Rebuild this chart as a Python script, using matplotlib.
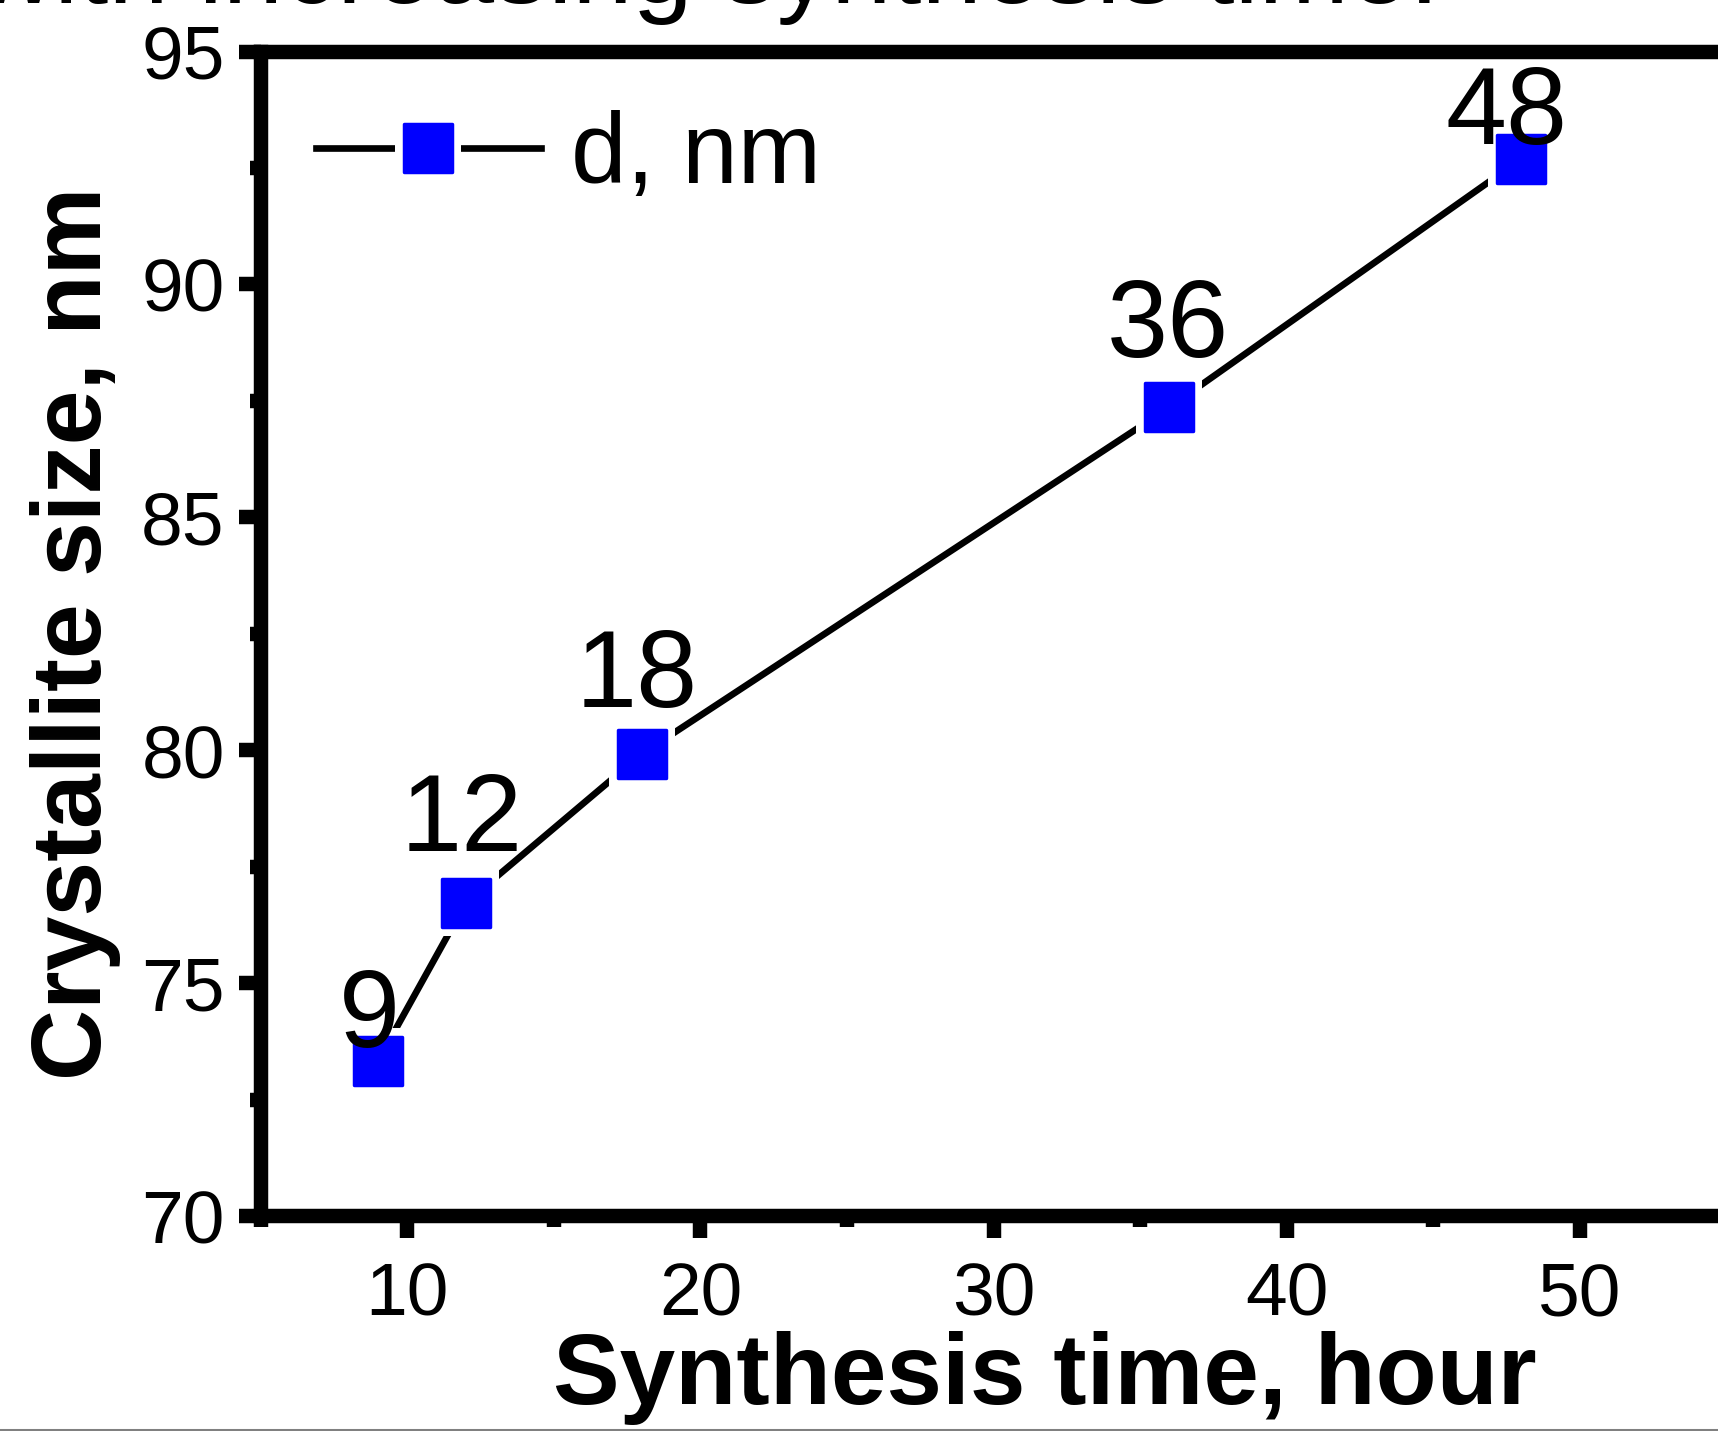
import matplotlib
matplotlib.use('Agg')
import matplotlib.pyplot as plt
from matplotlib.ticker import MultipleLocator
from matplotlib.lines import Line2D
from matplotlib.markers import MarkerStyle

# crystallite size vs synthesis time
time_h = [9, 12, 18, 36, 48]
size_nm = [73.33, 76.73, 79.92, 87.36, 92.69]
point_labels = ['9', '12', '18', '36', '48']
# where each point label sits relative to its point (pixels)
label_offsets = [(-9, 14), (-4, 52), (-5, 47), (-1, 50), (-15, 15)]

plt.rcParams['font.family'] = ['Liberation Sans', 'DejaVu Sans']

fig = plt.figure(figsize=(17.18, 14.31), dpi=100)
ax = fig.add_axes([0.1518, 0.1502, 0.8530, 0.8138])

sq = MarkerStyle('s', joinstyle='round')
# line with a white gap around every marker
ax.plot(time_h, size_nm, color='black', lw=4.8, zorder=2)
ax.plot(time_h, size_nm, ls='none', marker='s', ms=48, mfc='white', mec='white', mew=0, zorder=3)
ax.plot(time_h, size_nm, ls='none', marker=sq, ms=34.5, mfc='blue', mec='blue', mew=2.5, zorder=4)

for x, y, t, (dx, dy) in zip(time_h, size_nm, point_labels, label_offsets):
    ax.annotate(t, (x, y), xytext=(dx, dy), textcoords='offset pixels',
                ha='center', va='baseline', fontsize=79, zorder=5)

ax.set_xlim(5, 55)
ax.set_ylim(70, 95)
ax.xaxis.set_major_locator(MultipleLocator(10))
ax.xaxis.set_minor_locator(MultipleLocator(5))
ax.yaxis.set_major_locator(MultipleLocator(5))
ax.yaxis.set_minor_locator(MultipleLocator(2.5))

for s in ax.spines.values():
    s.set_linewidth(10.4)
ax.tick_params(which='both', direction='out', top=False, right=False, width=10.4)
ax.tick_params(which='major', length=16, labelsize=54)
ax.tick_params(axis='x', which='major', pad=17)
ax.tick_params(axis='y', which='major', pad=10)
ax.tick_params(which='minor', length=8)

ax.set_xlabel('Synthesis time, hour', fontsize=72, fontweight='bold', va='baseline')
ax.xaxis.set_label_coords(0.535, -0.1614)
ax.set_ylabel('Crystallite size, nm', fontsize=71, fontweight='bold', va='baseline')
ax.yaxis.set_label_coords(-0.1092, 0.5)

h_line = Line2D([], [], color='black', lw=4.8)
h_gap = Line2D([], [], ls='none', marker='s', ms=48, mfc='white', mec='white', mew=0)
h_mark = Line2D([], [], ls='none', marker=sq, ms=34.5, mfc='blue', mec='blue', mew=2.5)
ax.legend([(h_line, h_gap, h_mark)], ['d, nm'], loc='center left',
          bbox_to_anchor=(0.0375, 0.9094), frameon=False, fontsize=72,
          handlelength=2.25, handletextpad=0.3, borderpad=0, borderaxespad=0)

fig.text(1440 / 1718, 1 - 3 / 1431, 'with increasing synthesis time.',
         ha='right', va='baseline', fontsize=78)
fig.add_artist(Line2D([0, 1], [0.001, 0.001], transform=fig.transFigure,
                      color='#808080', lw=2.2))

fig.savefig('out.png', dpi=100)
